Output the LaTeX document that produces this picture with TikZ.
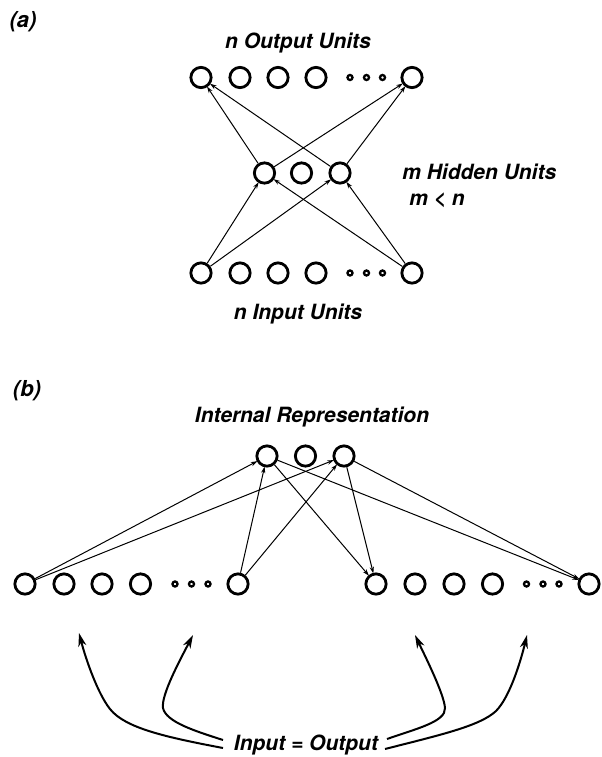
\documentclass[tikz,border=0pt]{standalone}
\usepackage{fontspec}
\setmainfont{TeX Gyre Heros}
\usetikzlibrary{arrows.meta}
\begin{document}
\begin{tikzpicture}[x=0.75pt,y=-0.75pt,
  unit/.style={circle,draw,line width=2.1pt,minimum size=15.2pt,inner sep=0pt},
  dot/.style={circle,draw,line width=1.7pt,minimum size=3.8pt,inner sep=0pt},
  label/.style={font=\fontsize{15.75}{18}\selectfont\bfseries\itshape,inner sep=0pt},
  panel/.style={font=\fontsize{16.5}{19}\selectfont\bfseries\itshape,inner sep=0pt},
  link/.style={line width=0.75pt,-{Stealth[length=5pt,width=3.2pt]},shorten >=-0.5pt},
  curvearrow/.style={line width=1.5pt,-{Stealth[length=10pt,width=6pt,inset=3pt]}}]
\useasboundingbox (0,0) rectangle (601,757);

% ---------- (a) autoencoder ----------
\node[panel] (la) at (23,22) {(a)};
\node[label] (tout) at (298,43) {n Output Units};
\foreach \i/\x in {1/201,2/240,3/278,4/316,n/412} {
  \node[unit] (o\i) at (\x,77.5) {};
  \node[unit] (i\i) at (\x,273) {};
}
\foreach \j/\x in {1/350,2/366.5,3/382.5} {
  \node[dot] (od\j) at (\x,77.5) {};
  \node[dot] (id\j) at (\x,273) {};
}
\foreach \k/\x in {1/264.5,2/301.5,3/340}
  \node[unit] (h\k) at (\x,173) {};
\node[label,anchor=west] (thid) at (402,172) {m Hidden Units};
\node[label,anchor=west] (tmn) at (409,200) {m < n};
\node[label] (tin) at (298,314) {n Input Units};

\foreach \s in {h1,h3} {
  \draw[link] (\s) -- (o1);
  \draw[link] (\s) -- (on);
}
\foreach \s in {i1,in} {
  \draw[link] (\s) -- (h1);
  \draw[link] (\s) -- (h3);
}

% ---------- (b) input = output ----------
\node[panel] (lb) at (27,391) {(b)};
\node[label] (trep) at (312,417) {Internal Representation};
\foreach \k/\x in {1/267,2/305.5,3/344}
  \node[unit] (r\k) at (\x,456) {};
\foreach \i/\x in {1/25,2/64,3/102,4/140.5,n/238}
  \node[unit] (a\i) at (\x,584) {};
\foreach \i/\x in {1/376,2/415,3/454,4/492.5,n/589}
  \node[unit] (b\i) at (\x,584) {};
\foreach \j/\x in {1/175,2/191.5,3/208}
  \node[dot] (ad\j) at (\x,584) {};
\foreach \j/\x in {1/526.5,2/543,3/559}
  \node[dot] (bd\j) at (\x,584) {};

\foreach \s in {a1,an} {
  \draw[link] (\s) -- (r1);
  \draw[link] (\s) -- (r3);
}
\foreach \s in {r1,r3} {
  \draw[link] (\s) -- (b1);
  \draw[link] (\s) -- (bn);
}

% curved pointers from the caption to both layers
\node[label] (io) at (306,745) {Input = Output};
\coordinate (s1) at (223,748);
\coordinate (s2) at (223,740);
\coordinate (s3) at (387,739);
\coordinate (s4) at (385,749);
\coordinate (t1) at (79,633);
\coordinate (t2) at (193,635);
\coordinate (t3) at (415,635);
\coordinate (t4) at (527,635);
\draw[curvearrow] (s1) .. controls (165,737) and (125,728) .. (110,709)
                       .. controls (98,694) and (86,660) .. (t1);
\draw[curvearrow] (s2) .. controls (195,731) and (166,722) .. (163,708)
                       .. controls (161,695) and (180,660) .. (t2);
\draw[curvearrow] (s3) .. controls (415,729) and (446,722) .. (445,708)
                       .. controls (444,694) and (426,658) .. (t3);
\draw[curvearrow] (s4) .. controls (440,735) and (480,726) .. (496,711)
                       .. controls (510,697) and (521,660) .. (t4);
\end{tikzpicture}
\end{document}
